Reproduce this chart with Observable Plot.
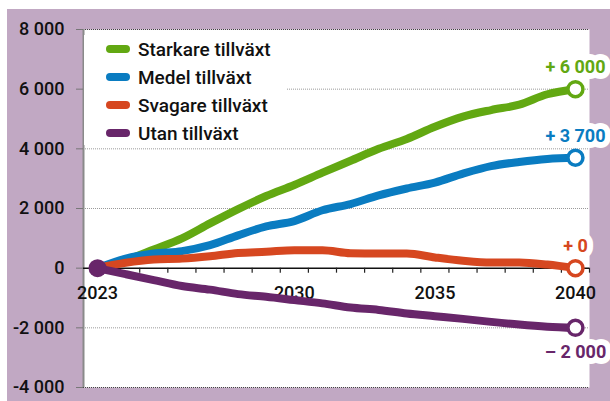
<!DOCTYPE html>
<html><head><meta charset="utf-8">
<script src="https://cdn.jsdelivr.net/npm/d3@7"></script>
<script src="https://cdn.jsdelivr.net/npm/@observablehq/plot@0.6"></script>
<style>
body{margin:0;background:#fff;font-family:Roboto,sans-serif}
#wrap{position:relative;width:610px;height:401px;overflow:hidden}
#bg{position:absolute;left:7px;top:9px;right:0;bottom:0;background:#c1a8c3}
#chart{position:absolute;left:0;top:0}
#legend{position:absolute;left:84px;top:35px;width:203px;height:110px;background:#fff}
.item{position:absolute;left:22px;display:flex;align-items:center;height:28px;font-weight:500;font-size:19px;color:#111;white-space:nowrap}
.sw{width:24px;height:8px;border-radius:4px;margin-right:8px}
</style></head>
<body>
<div id="wrap"><div id="bg"></div><div id="chart"></div><div id="legend"></div></div>
<script>
const series = ["Starkare tillväxt", "Medel tillväxt", "Svagare tillväxt", "Utan tillväxt"];
const colors = ["#62a812", "#0a7cc1", "#d64720", "#68266a"];
const years = [2023,2024,2025,2026,2027,2028,2029,2030,2031,2032,2033,2034,2035,2036,2037,2038,2039,2040];
const starkare = [0,270,630,1000,1500,1980,2420,2790,3200,3600,4000,4330,4740,5080,5300,5480,5830,6000];
const medel    = [0,320,490,570,770,1100,1400,1580,1940,2150,2440,2670,2870,3170,3420,3560,3660,3700];
const svagare  = [0,180,290,320,400,510,550,600,600,500,490,490,360,250,190,190,120,0];
const utan     = [0,-200,-400,-600,-720,-870,-960,-1070,-1180,-1320,-1400,-1520,-1610,-1700,-1800,-1890,-1960,-2000];
const endLabels = ["+ 6 000", "+ 3 700", "+ 0", "– 2 000"];
const yTicks = [-4000,-2000,0,2000,4000,6000,8000];
const gridValues = [-2000,2000,4000,6000];
const edgeValues = [-4000,8000];
const xLabels = [2023,2030,2035,2040];
const xDomain = [2022.5, 2040.5];

const valuesBySeries = [starkare, medel, svagare, utan];
const tidy = [];
series.forEach((s, k) => years.forEach((yr, i) => tidy.push({series: s, year: yr, value: valuesBySeries[k][i]})));
const last = years.length - 1;
const ends = series.map((s, k) => ({series: s, year: years[last], value: valuesBySeries[k][last], label: endLabels[k]}));
const start = [{series: series[3], year: years[0], value: 0}];
const tickPositions = years.map(y => y + 0.5);

const loc = d3.formatLocale({decimal: ",", thousands: " ", grouping: [3], currency: ["", ""], minus: "-"});
const fmt = loc.format(",");

const chart = Plot.plot({
  width: 610, height: 401,
  marginLeft: 83, marginRight: 21, marginTop: 29, marginBottom: 14,
  style: {background: "transparent", fontFamily: "Roboto, sans-serif"},
  x: {domain: xDomain, axis: null},
  y: {domain: [-4000, 8000], axis: null},
  color: {domain: series, range: colors},
  marks: [
    Plot.frame({fill: "white", stroke: null}),
    Plot.ruleY(gridValues, {stroke: "#9a9a9a", strokeDasharray: "1,1"}),
    Plot.ruleY(edgeValues, {stroke: "#444", strokeDasharray: "1,1"}),
    Plot.ruleX([xDomain[0]], {stroke: "#8a8a8a", strokeWidth: 2}),
    Plot.axisY({ticks: yTicks, tickSize: 7, tickFormat: () => "", stroke: "#777", label: null}),
    Plot.axisY({ticks: yTicks, tickSize: 0, tickPadding: 19, tickFormat: fmt, fill: "#111", fontSize: 18, fontWeight: 500, label: null}),
    Plot.ruleY([0], {stroke: "#111", strokeWidth: 1.5}),
    Plot.ruleX(tickPositions, {y1: 0, y2: 0, insetTop: 0, insetBottom: -5, stroke: "#222", strokeWidth: 1.2}),
    Plot.text(xLabels, {x: d => d, y: 0, dy: 25, text: d => String(d), fontSize: 18, fontWeight: 500, fill: "#111"}),
    Plot.line(tidy, {x: "year", y: "value", z: "series", stroke: "series", strokeWidth: 8, curve: "monotone-x", strokeLinecap: "round", strokeLinejoin: "round"}),
    Plot.dot(start, {x: "year", y: "value", r: 9, fill: "series"}),
    Plot.text(ends.filter(d => d.value >= 0), {x: "year", y: "value", dy: -22, text: "label", fill: "series", stroke: "white", strokeWidth: 12, fontSize: 18, fontWeight: 700}),
    Plot.text(ends.filter(d => d.value < 0), {x: "year", y: "value", dy: 24, text: "label", fill: "series", stroke: "white", strokeWidth: 12, fontSize: 18, fontWeight: 700}),
    Plot.dot(ends, {x: "year", y: "value", r: 7.5, fill: "white", stroke: "series", strokeWidth: 3.5})
  ]
});
document.getElementById("chart").appendChild(chart);

const legend = document.getElementById("legend");
series.forEach((s, k) => {
  const item = document.createElement("div");
  item.className = "item";
  item.style.top = (k * 28) + "px";
  const sw = document.createElement("span");
  sw.className = "sw";
  sw.style.background = colors[k];
  item.appendChild(sw);
  item.appendChild(document.createTextNode(s));
  legend.appendChild(item);
});
</script>
</body></html>
